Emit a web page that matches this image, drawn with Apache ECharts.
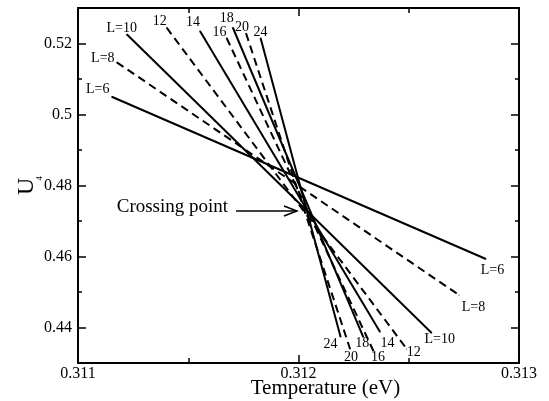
<!DOCTYPE html>
<html>
<head>
<meta charset="utf-8">
<script src="https://cdn.jsdelivr.net/npm/echarts@6/dist/echarts.min.js"></script>
<style>
html,body{margin:0;padding:0;background:#fff;}
#c{width:549px;height:401px;}
</style>
</head>
<body>
<div id="c"></div>
<script>
// ---- data ----
const startLabels = ['L=6', 'L=8', 'L=10', '12', '14', '16', '18', '20', '24'];
const endLabels   = ['L=6', 'L=8', 'L=10', '12', '14', '16', '18', '20', '24'];
const tStart = [0.311153, 0.311176, 0.311221, 0.311402, 0.311553, 0.311674, 0.311702, 0.311762, 0.311828];
const uStart = [0.50501, 0.51470, 0.52259, 0.52445, 0.52352, 0.52155, 0.52451, 0.52287, 0.52155];
const tEnd   = [0.312850, 0.312728, 0.312604, 0.312491, 0.312370, 0.312342, 0.312294, 0.312234, 0.312191];
const uEnd   = [0.45930, 0.44915, 0.43845, 0.43394, 0.43873, 0.43310, 0.43732, 0.43394, 0.43732];
const dashed = [false, true, false, true, false, true, false, true, false];
const yMajor = [0.44, 0.46, 0.48, 0.5, 0.52];
const yMinor = [0.45, 0.47, 0.49, 0.51];
const annotationText = 'Crossing point';
const arrowTail = [0.311717, 0.47282];
const arrowHead = [0.311993, 0.47282];

// ---- styles ----
const FONT = "'Liberation Serif', 'Times New Roman', serif";
const startOffsets = [[-14,-7],[-14,-4],[-5,-6],[-7,-6],[-7,-9],[-7,-6],[-6,-9],[-4,-6],[0,-6]];
const endOffsets   = [[6.5,11.5],[14.5,12.5],[8,6],[7,3.5],[7.5,11],[4,5],[-1,6],[1,8],[-10,7]];

function lbl(text, off) {
  return {show: true, formatter: text, position: 'inside', offset: off, align: 'center',
          verticalAlign: 'middle', fontFamily: FONT, fontSize: 14, color: '#000'};
}

const series = startLabels.map((s, i) => ({
  type: 'line',
  xAxisIndex: 0, yAxisIndex: 0,
  symbol: 'circle', symbolSize: 1,
  itemStyle: {color: '#000'},
  lineStyle: {color: '#000', width: 2, type: dashed[i] ? [8, 5] : 'solid'},
  emphasis: {disabled: true},
  animation: false,
  data: [
    {value: [tStart[i], uStart[i]], label: lbl(startLabels[i], startOffsets[i])},
    {value: [tEnd[i], uEnd[i]], label: lbl(endLabels[i], endOffsets[i])}
  ]
}));

const axisLine = {show: true, lineStyle: {color: '#000', width: 1.8}};
function yAx(pos, ticks, len, withLabels) {
  const a = {
    type: 'value', position: pos, min: 0.43, max: 0.53, interval: 0.01,
    splitLine: {show: false}, axisLine: axisLine,
    axisTick: {show: true, inside: true, length: len, customValues: ticks, lineStyle: {color: '#000', width: 1.5}},
    axisLabel: withLabels ? {show: true, customValues: ticks, fontFamily: FONT, fontSize: 16, color: '#000', margin: 6}
                          : {show: false}
  };
  return a;
}
const yAxes = [yAx('left', yMajor, 8, true), yAx('left', yMinor, 4, false),
               yAx('right', yMajor, 8, false), yAx('right', yMinor, 4, false)];
yAxes[0].name = '{u|U}{s|4}';
yAxes[0].nameLocation = 'middle';
yAxes[0].nameRotate = 90;
yAxes[0].nameGap = 39;
yAxes[0].nameMoveOverlap = false;
yAxes[0].nameTextStyle = {
  fontFamily: FONT, color: '#000',
  rich: {u: {fontSize: 24, lineHeight: 24, fontFamily: FONT, color: '#000'},
         s: {fontSize: 9, lineHeight: 9, fontFamily: FONT, color: '#000', verticalAlign: 'bottom', padding: [0, 0, -5, -3]}}
};

function xAx(pos, withLabels) {
  return {
    type: 'value', position: pos, min: 0.311, max: 0.313, interval: 0.001,
    splitLine: {show: false}, axisLine: axisLine,
    axisTick: {show: true, inside: true, length: 8, lineStyle: {color: '#000', width: 1.5}},
    minorTick: {show: true, splitNumber: 2, length: 5, lineStyle: {color: '#000', width: 1.5}},
    axisLabel: withLabels ? {show: true, fontFamily: FONT, fontSize: 16, color: '#000', margin: 3,
                             formatter: v => v.toFixed(3)} : {show: false}
  };
}
const xAxes = [xAx('bottom', true), xAx('top', false)];
xAxes[0].name = 'Temperature (eV)';
xAxes[0].nameLocation = 'middle';
xAxes[0].nameGap = 15;
xAxes[0].nameMoveOverlap = false;
xAxes[0].nameTextStyle = {fontFamily: FONT, fontSize: 21, color: '#000', padding: [0, 0, 0, 54]};

const chart = echarts.init(document.getElementById('c'), null, {renderer: 'canvas'});
chart.setOption({
  animation: false,
  backgroundColor: '#fff',
  grid: {left: 78, right: 30, top: 8, bottom: 38, containLabel: false, outerBoundsMode: 'none'},
  xAxis: xAxes,
  yAxis: yAxes,
  series: series
});

const p1 = chart.convertToPixel({xAxisIndex: 0, yAxisIndex: 0}, arrowTail);
const p2 = chart.convertToPixel({xAxisIndex: 0, yAxisIndex: 0}, arrowHead);
chart.setOption({
  graphic: [
    {type: 'line', shape: {x1: p1[0], y1: p1[1], x2: p2[0], y2: p2[1]}, style: {stroke: '#000', lineWidth: 1.5}},
    {type: 'polyline', shape: {points: [[p2[0] - 13, p2[1] - 5], [p2[0], p2[1]], [p2[0] - 13, p2[1] + 5]]},
     style: {stroke: '#000', lineWidth: 1.5, fill: null}},
    {type: 'text', x: p1[0] - 8, y: p1[1] - 4,
     style: {text: annotationText, font: '19px ' + FONT, fill: '#000', align: 'right', verticalAlign: 'middle'}}
  ]
});
</script>
</body>
</html>
